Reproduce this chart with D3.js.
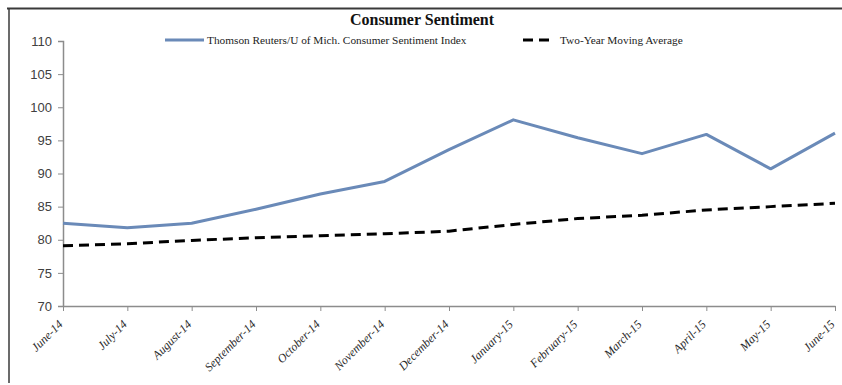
<!DOCTYPE html>
<html><head><meta charset="utf-8">
<script src="https://cdn.jsdelivr.net/npm/d3@7"></script>
<style>body{margin:0;background:#fff}svg{display:block}</style>
</head><body>
<script>
const months = ["June-14","July-14","August-14","September-14","October-14","November-14","December-14","January-15","February-15","March-15","April-15","May-15","June-15"];
const sentiment = [82.5,81.8,82.5,84.6,86.9,88.8,93.6,98.1,95.4,93.0,95.9,90.7,96.1];
const movingAvg = [79.1,79.4,79.9,80.3,80.6,80.9,81.3,82.3,83.2,83.7,84.5,85.0,85.5];
const yTicks = [70,75,80,85,90,95,100,105,110];
const seriesNames = ["Thomson Reuters/U of Mich. Consumer Sentiment Index","Two-Year Moving Average"];
const title = "Consumer Sentiment";

const W=842,H=385;
const svg=d3.select("body").append("svg").attr("width",W).attr("height",H);
// frame
svg.append("line").attr("x1",7).attr("x2",W).attr("y1",8.5).attr("y2",8.5).attr("stroke","#3a3a3a").attr("stroke-width",2);
svg.append("line").attr("x1",9).attr("x2",9).attr("y1",8).attr("y2",383).attr("stroke","#3a3a3a").attr("stroke-width",1.5);

const x=d3.scalePoint().domain(months).range([63,835]);
const y=d3.scaleLinear().domain([70,110]).range([306,41]);

const yAxis=svg.append("g").attr("transform","translate(63,0)")
  .call(d3.axisLeft(y).tickValues(yTicks).tickSize(5).tickPadding(6));
yAxis.select(".domain").attr("stroke","#8c8c8c").attr("stroke-width",1.5);
yAxis.selectAll(".tick line").attr("stroke","#8c8c8c");
yAxis.selectAll("text").attr("font-family","Liberation Sans, Arial, sans-serif").attr("font-size",13).attr("fill","#404040");

const xAxis=svg.append("g").attr("transform","translate(0,306)")
  .call(d3.axisBottom(x).tickSize(5).tickSizeOuter(0));
xAxis.select(".domain").attr("stroke","#8c8c8c").attr("stroke-width",1.5);
xAxis.selectAll(".tick line").attr("stroke","#8c8c8c");
xAxis.selectAll("text").attr("font-family","Liberation Serif, serif").attr("font-style","italic")
  .attr("font-size",12).attr("fill","#2a2a2a").attr("text-anchor","end")
  .attr("dy",0).attr("y",0)
  .attr("transform","translate(0,19) rotate(-45)");

svg.append("path").datum(movingAvg).attr("fill","none").attr("stroke","#000").attr("stroke-width",3)
  .attr("stroke-dasharray","10,6")
  .attr("d",d3.line().x((d,i)=>x(months[i])).y(d=>y(d)));
svg.append("path").datum(sentiment).attr("fill","none").attr("stroke","#6a8ab8").attr("stroke-width",3)
  .attr("stroke-linejoin","round")
  .attr("d",d3.line().x((d,i)=>x(months[i])).y(d=>y(d)));

svg.append("text").attr("x",422).attr("y",25).attr("text-anchor","middle")
  .attr("font-family","Liberation Serif, serif").attr("font-weight","bold").attr("font-size",16).attr("fill","#111").text(title);

// legend
const lg=svg.append("g").attr("font-family","Liberation Serif, serif").attr("font-size",11.3).attr("fill","#222");
lg.append("line").attr("x1",165).attr("x2",204).attr("y1",40).attr("y2",40).attr("stroke","#6a8ab8").attr("stroke-width",3);
lg.append("text").attr("x",207).attr("y",44).text(seriesNames[0]);
lg.append("line").attr("x1",523).attr("x2",553).attr("y1",40).attr("y2",40).attr("stroke","#000").attr("stroke-width",3).attr("stroke-dasharray","10,6");
lg.append("text").attr("x",560).attr("y",44).text(seriesNames[1]);
</script>
</body></html>
